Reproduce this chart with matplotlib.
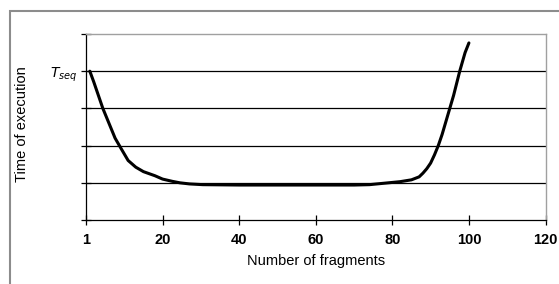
import matplotlib.pyplot as plt
from matplotlib.patches import Rectangle

# Czas wykonania w funkcji liczby fragmentów
fragments = [1, 2, 3, 4.4, 6, 7.6, 9, 11, 13, 15, 18, 20, 22.5, 24.5, 27, 30.5, 40, 50, 60, 70, 74,
             77, 79, 82, 85, 87, 88, 89, 90, 91, 92, 93, 94, 95, 96, 97.6, 99, 100]
times = [4.0, 3.72, 3.42, 3.0, 2.6, 2.2, 1.95, 1.6, 1.42, 1.3, 1.19, 1.1, 1.04, 1.0, 0.97, 0.95, 0.94, 0.94, 0.94, 0.94, 0.95,
         0.98, 1.0, 1.03, 1.08, 1.16, 1.26, 1.38, 1.53, 1.75, 2.0, 2.3, 2.65, 3.0, 3.35, 4.0, 4.5, 4.76]

x_ticks = [0, 20, 40, 60, 80, 100, 120]
x_labels = ["1", "20", "40", "60", "80", "100", "120"]
y_ticks = [0, 1, 2, 3, 4, 5]
y_labels = ["", "", "", "", "$T_{seq}$", ""]

plt.rcParams['font.family'] = ['Liberation Sans', 'DejaVu Sans']

fig = plt.figure(figsize=(5.59, 2.84), dpi=100)
ax = fig.add_axes([86 / 559, 1 - 220 / 284, (545.5 - 86) / 559, (220 - 34) / 284])

fig.patches.append(Rectangle((10 / 559, -0.1), 1.2, 1 - 11 / 284 + 0.1, transform=fig.transFigure,
                             fill=False, edgecolor="#8c8c8c", linewidth=1.5, clip_on=False))

for y in y_ticks[1:5]:
    ax.axhline(y, color="black", linewidth=0.9, zorder=1)

ax.plot(fragments, times, color="black", linewidth=2.2, solid_capstyle="round", zorder=3)

ax.set_xlim(0, 120)
ax.set_ylim(0, 5)
ax.set_xticks(x_ticks)
ax.set_xticklabels(x_labels, fontsize=10.5, fontweight="bold")
ax.set_yticks(y_ticks)
ax.set_yticklabels(y_labels, fontsize=10, fontweight="bold", fontstyle="italic")
ax.tick_params(direction="inout", length=7, width=0.9, color="black", pad=3)
ax.tick_params(axis="x", pad=6)

for side in ["top", "right"]:
    ax.spines[side].set_color("#a0a0a0")
    ax.spines[side].set_linewidth(1.0)
for side in ["left", "bottom"]:
    ax.spines[side].set_color("black")
    ax.spines[side].set_linewidth(0.9)

ax.set_xlabel("Number of fragments", fontsize=10.5, labelpad=5)
fig.text(22 / 559, 1 - 124 / 284, "Time of execution", fontsize=10.5, rotation=90,
         ha="center", va="center")

fig.savefig("out.png", dpi=100)
